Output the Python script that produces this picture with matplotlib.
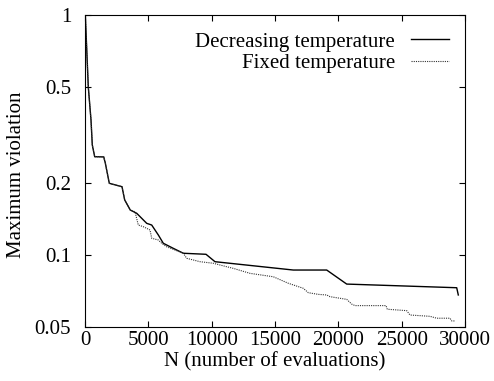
import matplotlib
matplotlib.use("Agg")
import matplotlib.pyplot as plt
from matplotlib.ticker import FixedLocator, FixedFormatter, NullLocator

# Evaluations (N) and maximum violation for each annealing schedule
decreasing_n = [24, 260, 474, 576, 766, 1476, 1603, 1918, 2921, 3134, 3576,
                4082, 4476, 4871, 5266, 5526, 5787, 6182, 6971, 7761, 9553,
                10263, 16445, 19082, 20661, 29345, 29471]
decreasing_v = [1.0, 0.501, 0.365, 0.287, 0.2565, 0.256, 0.2414, 0.1987,
                0.1923, 0.1693, 0.1537, 0.149, 0.142, 0.1353, 0.1331, 0.1269,
                0.121, 0.1117, 0.1064, 0.1015, 0.1005, 0.0936, 0.0864, 0.0864,
                0.0755, 0.0729, 0.068]

fixed_n = [24, 260, 474, 576, 766, 1476, 1603, 1918, 2921, 3134, 3576,
           3947, 4208, 4603, 5132, 5266, 5787, 6055, 6450, 7761, 8029, 9079,
           10129, 11187, 11708, 13026, 14866, 16050, 17234, 17629, 18418,
           19082, 19342, 20661, 21055, 21316, 23763, 23866, 25398, 25658,
           27237, 27766, 28816, 28950, 29211]
fixed_v = [1.0, 0.501, 0.365, 0.287, 0.2565, 0.256, 0.2414, 0.1987, 0.1923,
           0.1693, 0.1537, 0.1512, 0.1331, 0.131, 0.1269, 0.1172, 0.1153,
           0.1117, 0.108, 0.1015, 0.0967, 0.0936, 0.0922, 0.0892, 0.0878,
           0.0837, 0.081, 0.0761, 0.0725, 0.0695, 0.0684, 0.068, 0.0669,
           0.0652, 0.0623, 0.0614, 0.0614, 0.0593, 0.0585, 0.0561, 0.0554,
           0.0544, 0.0544, 0.053, 0.053]

x_ticks = [0, 5000, 10000, 15000, 20000, 25000, 30000]
y_ticks = [0.05, 0.1, 0.2, 0.5, 1]
y_tick_labels = ["0.05", "0.1", "0.2", "0.5", "1"]

FS = 15
plt.rcParams["font.family"] = ["Liberation Serif", "DejaVu Serif"]
plt.rcParams["font.size"] = FS

W, H = 494, 381
fig = plt.figure(figsize=(W / 100, H / 100), dpi=100)
ax = fig.add_axes([85 / W, 1 - 327 / H, 380 / W, 312 / H])

ax.plot(decreasing_n, decreasing_v, color="black", lw=1.0,
        label="Decreasing temperature")
ax.plot(fixed_n, fixed_v, color="#333333", lw=0.8, linestyle=(0, (1, 1)),
        label="Fixed temperature")

ax.set_yscale("log")
ax.set_xlim(0, 30000)
ax.set_ylim(0.05, 1)
ax.xaxis.set_major_locator(FixedLocator(x_ticks))
ax.yaxis.set_major_locator(FixedLocator(y_ticks))
ax.yaxis.set_major_formatter(FixedFormatter(y_tick_labels))
ax.yaxis.set_minor_locator(NullLocator())

ax.tick_params(which="both", direction="in", top=True, right=True,
               length=4, width=0.8, color="black")
ax.tick_params(axis="x", pad=3, labelsize=FS)
ax.tick_params(axis="y", pad=10, labelsize=FS)
for s in ax.spines.values():
    s.set_linewidth(0.8)
    s.set_color("black")

fig.text(17 / W, 1 - 175 / H, "Maximum violation", rotation=90,
         ha="center", va="center", fontsize=FS)
fig.text(275 / W, 1 - 362 / H, "N (number of evaluations)",
         ha="center", va="center", fontsize=FS)

leg = ax.legend(loc="upper right", frameon=False, markerfirst=False,
                handlelength=1.86, handletextpad=0.75, labelspacing=0.1,
                borderaxespad=0.0, borderpad=0.0,
                bbox_to_anchor=(449.3 / W, 1 - 32 / H),
                bbox_transform=fig.transFigure, fontsize=FS)

fig.savefig("out.png", dpi=100)
